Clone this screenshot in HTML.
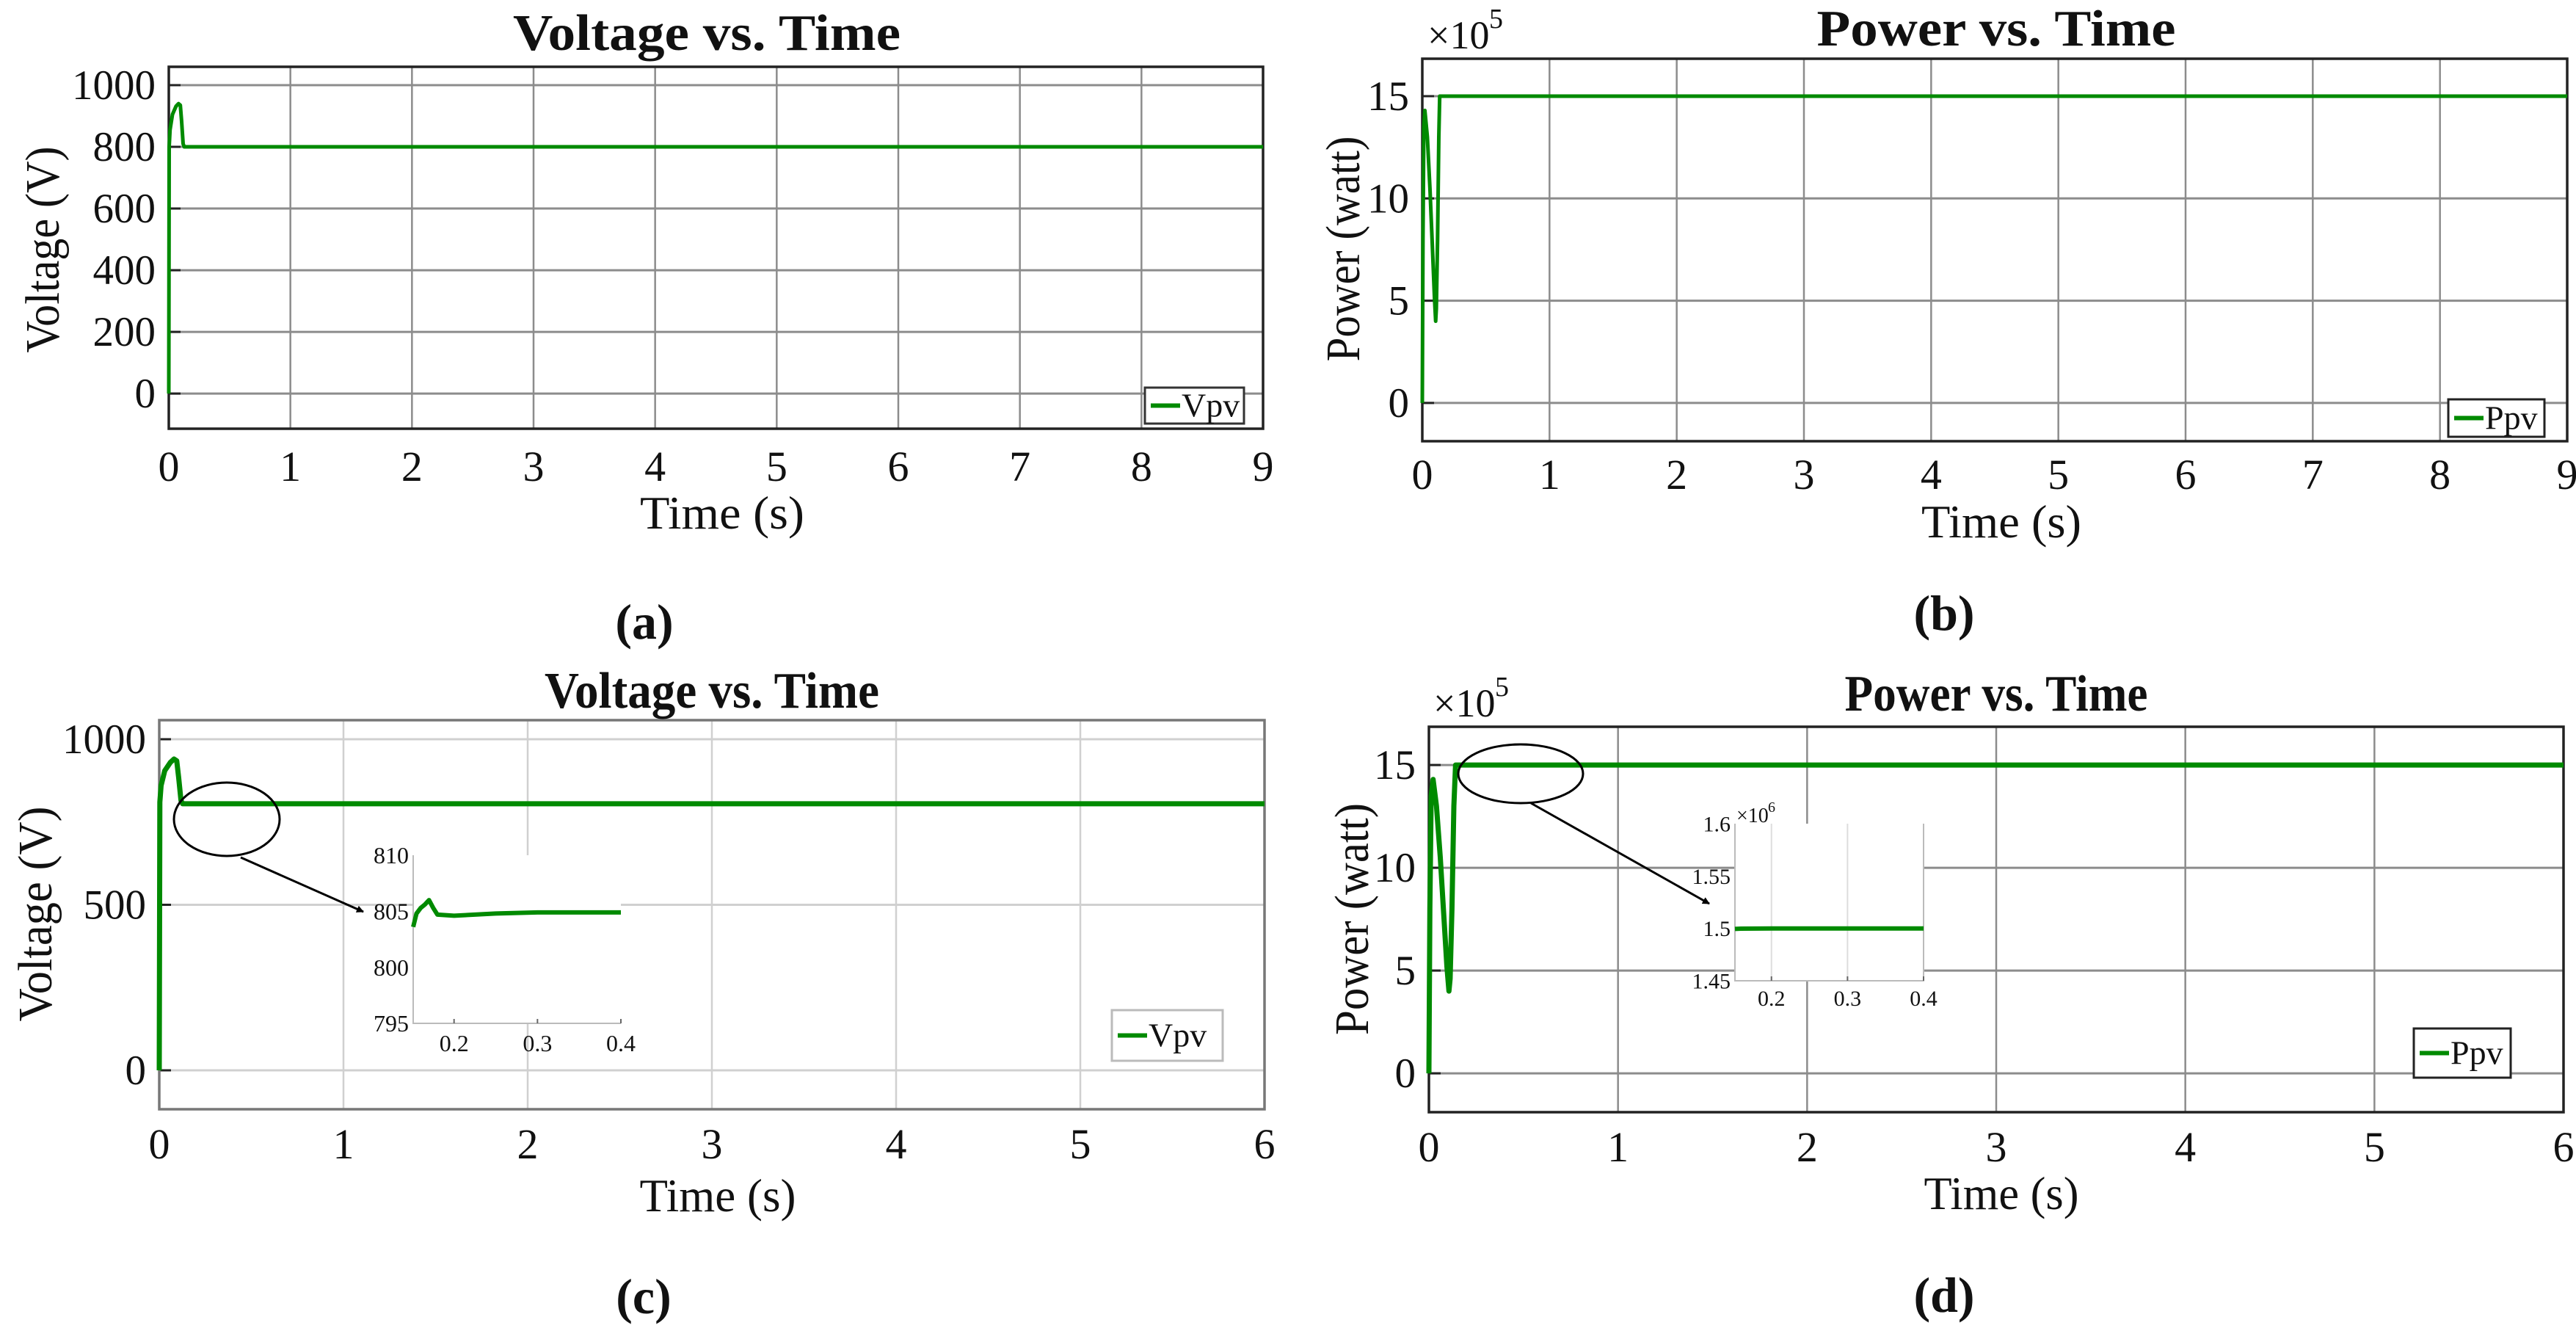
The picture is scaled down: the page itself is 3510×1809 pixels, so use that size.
<!DOCTYPE html>
<html><head><meta charset="utf-8"><style>
html,body{margin:0;padding:0;background:#fff;}
svg{display:block;}
text{font-family:"Liberation Serif",serif;fill:#111;}
</style></head><body>
<svg id="fig" width="3510" height="1809" viewBox="0 0 3510 1809" xmlns="http://www.w3.org/2000/svg">
<rect x="0" y="0" width="3510" height="1809" fill="#fff"/>
<defs><marker id="ah" markerWidth="10" markerHeight="10" refX="9" refY="5" orient="auto" markerUnits="userSpaceOnUse"><path d="M0,0 L10,5 L0,10 z" fill="#000"/></marker></defs>
</svg>
<script>
// ---- data ----
const aTime = [0,0.003,0.01,0.03,0.06,0.08,0.095,0.105,0.118,0.127,9];
const aVolt = [0,800,855,905,932,940,935,885,810,800,800];
const bTime = [0,0.005,0.012,0.02,0.04,0.06,0.08,0.095,0.105,0.11,0.12,0.13,0.137,9];
const bPower = [0,8,13.5,14.3,13,10.5,7.5,5.2,4,4.6,8,13,15,15];
const cTime = [0,0.003,0.01,0.03,0.06,0.08,0.095,0.105,0.118,0.127,6];
const cVolt = [0,810,860,905,930,940,935,885,815,805,805];
const dTime = [0,0.005,0.012,0.022,0.04,0.06,0.08,0.095,0.106,0.112,0.122,0.132,0.141,6];
const dPower = [0,8,13.5,14.3,13,10.5,7.5,5.2,4,4.6,8,13,15,15];
const cInsetTime = [0.151,0.155,0.16,0.165,0.17,0.175,0.18,0.2,0.25,0.3,0.35,0.4];
const cInsetVolt = [803.6,804.8,805.3,805.6,806.0,805.3,804.7,804.6,804.8,804.9,804.9,804.9];
const dInsetTime = [0.152,0.16,0.2,0.4];
const dInsetPower = [1.4995,1.4998,1.5,1.5];
const xTicks9 = [0,1,2,3,4,5,6,7,8,9];
const xTicks6 = [0,1,2,3,4,5,6];
const aYTicks = [0,200,400,600,800,1000];
const cYTicks = [0,500,1000];
const pYTicks = [0,5,10,15];
const cInsetXTicks = [0.2,0.3,0.4];
const cInsetYTicks = [795,800,805,810];
const dInsetXTicks = [0.2,0.3,0.4];
const dInsetYTicks = [1.45,1.5,1.55,1.6];
const dInsetYLabels = ["1.45","1.5","1.55","1.6"];

const NS = "http://www.w3.org/2000/svg";
const svg = document.getElementById('fig');
function mk(tag, attrs, parent){
  const e = document.createElementNS(NS, tag);
  for (const k in attrs) e.setAttribute(k, attrs[k]);
  (parent||svg).appendChild(e);
  return e;
}
function scale(d0,d1,r0,r1){ return v => r0 + (v-d0)/(d1-d0)*(r1-r0); }

function panel(p){
  const g = mk('g', {});
  
  
  const xs = scale(p.xMin,p.xMax,p.L,p.R);
  const ys = scale(p.yMin,p.yMax,p.B,p.T);
  p.xTicks.forEach(t=>{
    const l = mk('line',{x1:xs(t),x2:xs(t),y1:p.T,y2:p.B,stroke:p.grid,'stroke-width':2.5},g);
    
    
    const tx = mk('text',{x:xs(t),y:p.xLabY,'font-size':58,'text-anchor':'middle'},g);
    tx.textContent = t;
    
    
  });
  p.yTicks.forEach(t=>{
    const l = mk('line',{x1:p.L,x2:p.R,y1:ys(t),y2:ys(t),stroke:p.grid,'stroke-width':3},g);
    
    
    const tk = mk('line',{x1:p.L,x2:p.L+16,y1:ys(t),y2:ys(t),stroke:'#222','stroke-width':3},g);
    
    
    const tx = mk('text',{x:p.L-18,y:ys(t)+19,'font-size':57,'text-anchor':'end'},g);
    tx.textContent = t;
    
    
  });
  const box = mk('rect',{x:p.L,y:p.T,width:p.R-p.L,height:p.B-p.T,fill:'none',stroke:p.frame,'stroke-width':3.5},g);
  
  
  const pts = p.xs.map((t,i)=>xs(t).toFixed(1)+','+ys(p.ys[i]).toFixed(1)).join(' ');
  const line = mk('polyline',{points:pts,fill:'none',stroke:'#008a00','stroke-width':p.lw,'stroke-linejoin':'round'},g);
  
  
  const ti = mk('text',{x:p.titleX,y:p.titleY,'font-size':70,'font-weight':'bold','text-anchor':'middle',textLength:p.titleW,lengthAdjust:'spacingAndGlyphs'},g);
  ti.textContent = p.title;
  
  
  const xl = mk('text',{x:p.xtX,y:p.xtY,'font-size':64,'text-anchor':'middle',textLength:p.xtW,lengthAdjust:'spacingAndGlyphs'},g);
  xl.textContent = 'Time (s)';
  
  
  const yl = mk('text',{x:0,y:0,'font-size':66,'text-anchor':'middle',textLength:p.ytW,lengthAdjust:'spacingAndGlyphs',transform:`translate(${p.ytX},${p.ytY}) rotate(-90)`},g);
  yl.textContent = p.yTitle;
  
  
  const sl = mk('text',{x:p.subX,y:p.subY,'font-size':68,'font-weight':'bold','text-anchor':'middle'},g);
  sl.textContent = p.sub;
  
  
  const lg = mk('rect',{x:p.lgX,y:p.lgY,width:p.lgW,height:p.lgH,fill:'#fff',stroke:p.lgStroke,'stroke-width':3},g);
  
  
  const ll = mk('line',{x1:p.lgX+8,x2:p.lgX+48,y1:p.lgY+p.lgH/2,y2:p.lgY+p.lgH/2,stroke:'#008a00','stroke-width':6},g);
  
  
  const lt = mk('text',{x:p.lgX+50,y:p.lgY+p.lgH/2+15,'font-size':46},g);
  lt.textContent = p.legend;
  
  
  if (p.exp){
    const ex = mk('text',{x:p.expX,y:p.expY,'font-size':54},g);
    ex.textContent = '×10';
    
    
    const es = mk('text',{x:p.expX+84,y:p.expY-28,'font-size':38},g);
    es.textContent = '5';
    
    
  }
  return g;
}

function inset(p){
  const g = mk('g', {});
  
  
  const xs = scale(p.xMin,p.xMax,p.L,p.R);
  const ys = scale(p.yMin,p.yMax,p.B,p.T);
  const bg = mk('rect',{x:p.L,y:p.T,width:p.R-p.L,height:p.B-p.T,fill:'#fff'},g);
  
  
  if (p.vgrid){
    p.vgrid.forEach(t=>{
      const l = mk('line',{x1:xs(t),x2:xs(t),y1:p.T,y2:p.B,stroke:'#ddd','stroke-width':2},g);
      
      
    });
  }
  const ax = mk('polyline',{points:`${p.L},${p.T} ${p.L},${p.B} ${p.R},${p.B}`+(p.boxed?` ${p.R},${p.T}`:''),fill:'none',stroke:'#bbb','stroke-width':2},g);
  
  
  p.xTicks.forEach(t=>{
    const tk = mk('line',{x1:xs(t),x2:xs(t),y1:p.B,y2:p.B-6,stroke:'#666','stroke-width':2},g);
    
    
    const tx = mk('text',{x:xs(t),y:p.B+p.xLabOff,'font-size':p.fs,'text-anchor':'middle'},g);
    tx.textContent = t;
    
    
  });
  p.yTicks.forEach((t,i)=>{
    const tx = mk('text',{x:p.L-6,y:ys(t)+p.fs*0.35,'font-size':p.fs,'text-anchor':'end'},g);
    tx.textContent = p.yLabels ? p.yLabels[i] : t;
    
    
  });
  const pts = p.xs.map((t,i)=>xs(t).toFixed(1)+','+ys(p.ys[i]).toFixed(1)).join(' ');
  const line = mk('polyline',{points:pts,fill:'none',stroke:'#008a00','stroke-width':6,'stroke-linejoin':'round'},g);
  
  
  if (p.exp){
    const ex = mk('text',{x:p.L+2,y:p.T-2,'font-size':28},g);
    ex.textContent = '×10';
    
    
    const es = mk('text',{x:p.L+45,y:p.T-16,'font-size':20},g);
    es.textContent = '6';
    
    
  }
}

function zoomMark(name, cx, cy, rx, ry, x1, y1, x2, y2){
  const e = mk('ellipse',{cx:cx,cy:cy,rx:rx,ry:ry,fill:'none',stroke:'#000','stroke-width':3});
  
  
  const a = mk('line',{x1:x1,y1:y1,x2:x2,y2:y2,stroke:'#000','stroke-width':3,'marker-end':'url(#ah)'});
  
  
}

panel({name:'panel-a',L:230,R:1721,T:91,B:584,xMin:0,xMax:9,yMin:-114,yMax:1059.5,xTicks:xTicks9,yTicks:aYTicks,
  xs:aTime,ys:aVolt,lw:5,grid:'#8c8c8c',frame:'#222',seriesName:'vpv-line',
  title:'Voltage vs. Time',titleX:963,titleY:68,titleW:528,xLabY:655,xtX:984,xtY:720,xtW:224,
  yTitle:'Voltage (V)',ytX:80,ytY:340,ytW:281,sub:'(a)',subX:878,subY:870,
  lgX:1560,lgY:528,lgW:135,lgH:49,lgStroke:'#333',legend:'Vpv'});
panel({name:'panel-b',L:1938,R:3498,T:80,B:601,xMin:0,xMax:9,yMin:-1.87,yMax:16.83,xTicks:xTicks9,yTicks:pYTicks,
  xs:bTime,ys:bPower,lw:5,grid:'#8c8c8c',frame:'#222',seriesName:'ppv-line',
  title:'Power vs. Time',titleX:2720,titleY:62,titleW:489,xLabY:666,xtX:2727,xtY:732,xtW:218,
  yTitle:'Power (watt)',ytX:1852,ytY:339,ytW:307,sub:'(b)',subX:2649,subY:858,
  lgX:3336,lgY:544,lgW:131,lgH:51,lgStroke:'#222',legend:'Ppv',exp:true,expX:1945,expY:66});
panel({name:'panel-c',L:217,R:1723,T:981,B:1511,xMin:0,xMax:6,yMin:-117.5,yMax:1057.6,xTicks:xTicks6,yTicks:cYTicks,
  xs:cTime,ys:cVolt,lw:7,grid:'#d0d0d0',frame:'#777',seriesName:'vpv-line',
  title:'Voltage vs. Time',titleX:970,titleY:964,titleW:456,xLabY:1578,xtX:978,xtY:1650,xtW:213,
  yTitle:'Voltage (V)',ytX:70,ytY:1245,ytW:293,sub:'(c)',subX:877,subY:1789,
  lgX:1515,lgY:1376,lgW:151,lgH:69,lgStroke:'#bbb',legend:'Vpv'});
panel({name:'panel-d',L:1947,R:3493,T:990,B:1515,xMin:0,xMax:6,yMin:-1.89,yMax:16.86,xTicks:xTicks6,yTicks:pYTicks,
  xs:dTime,ys:dPower,lw:7,grid:'#8c8c8c',frame:'#222',seriesName:'ppv-line',
  title:'Power vs. Time',titleX:2720,titleY:968,titleW:413,xLabY:1582,xtX:2727,xtY:1647,xtW:211,
  yTitle:'Power (watt)',ytX:1864,ytY:1252,ytW:316,sub:'(d)',subX:2649,subY:1787,
  lgX:3289,lgY:1401,lgW:132,lgH:67,lgStroke:'#222',legend:'Ppv',exp:true,expX:1953,expY:976});

inset({name:'inset-c',L:563,R:846,T:1165,B:1394,xMin:0.151,xMax:0.4,yMin:795,yMax:810,
  xTicks:cInsetXTicks,yTicks:cInsetYTicks,xs:cInsetTime,ys:cInsetVolt,fs:32,xLabOff:38,boxed:false});
inset({name:'inset-d',L:2364,R:2621,T:1122,B:1336,xMin:0.152,xMax:0.4,yMin:1.45,yMax:1.6,
  xTicks:dInsetXTicks,yTicks:dInsetYTicks,yLabels:dInsetYLabels,xs:dInsetTime,ys:dInsetPower,fs:30,xLabOff:34,boxed:true,vgrid:[0.2,0.3],exp:true});

zoomMark('zoom-c',309,1116,72,50,328,1168,495,1242);
zoomMark('zoom-d',2072,1054,85,40,2086,1094,2329,1231);
</script>
</body></html>
